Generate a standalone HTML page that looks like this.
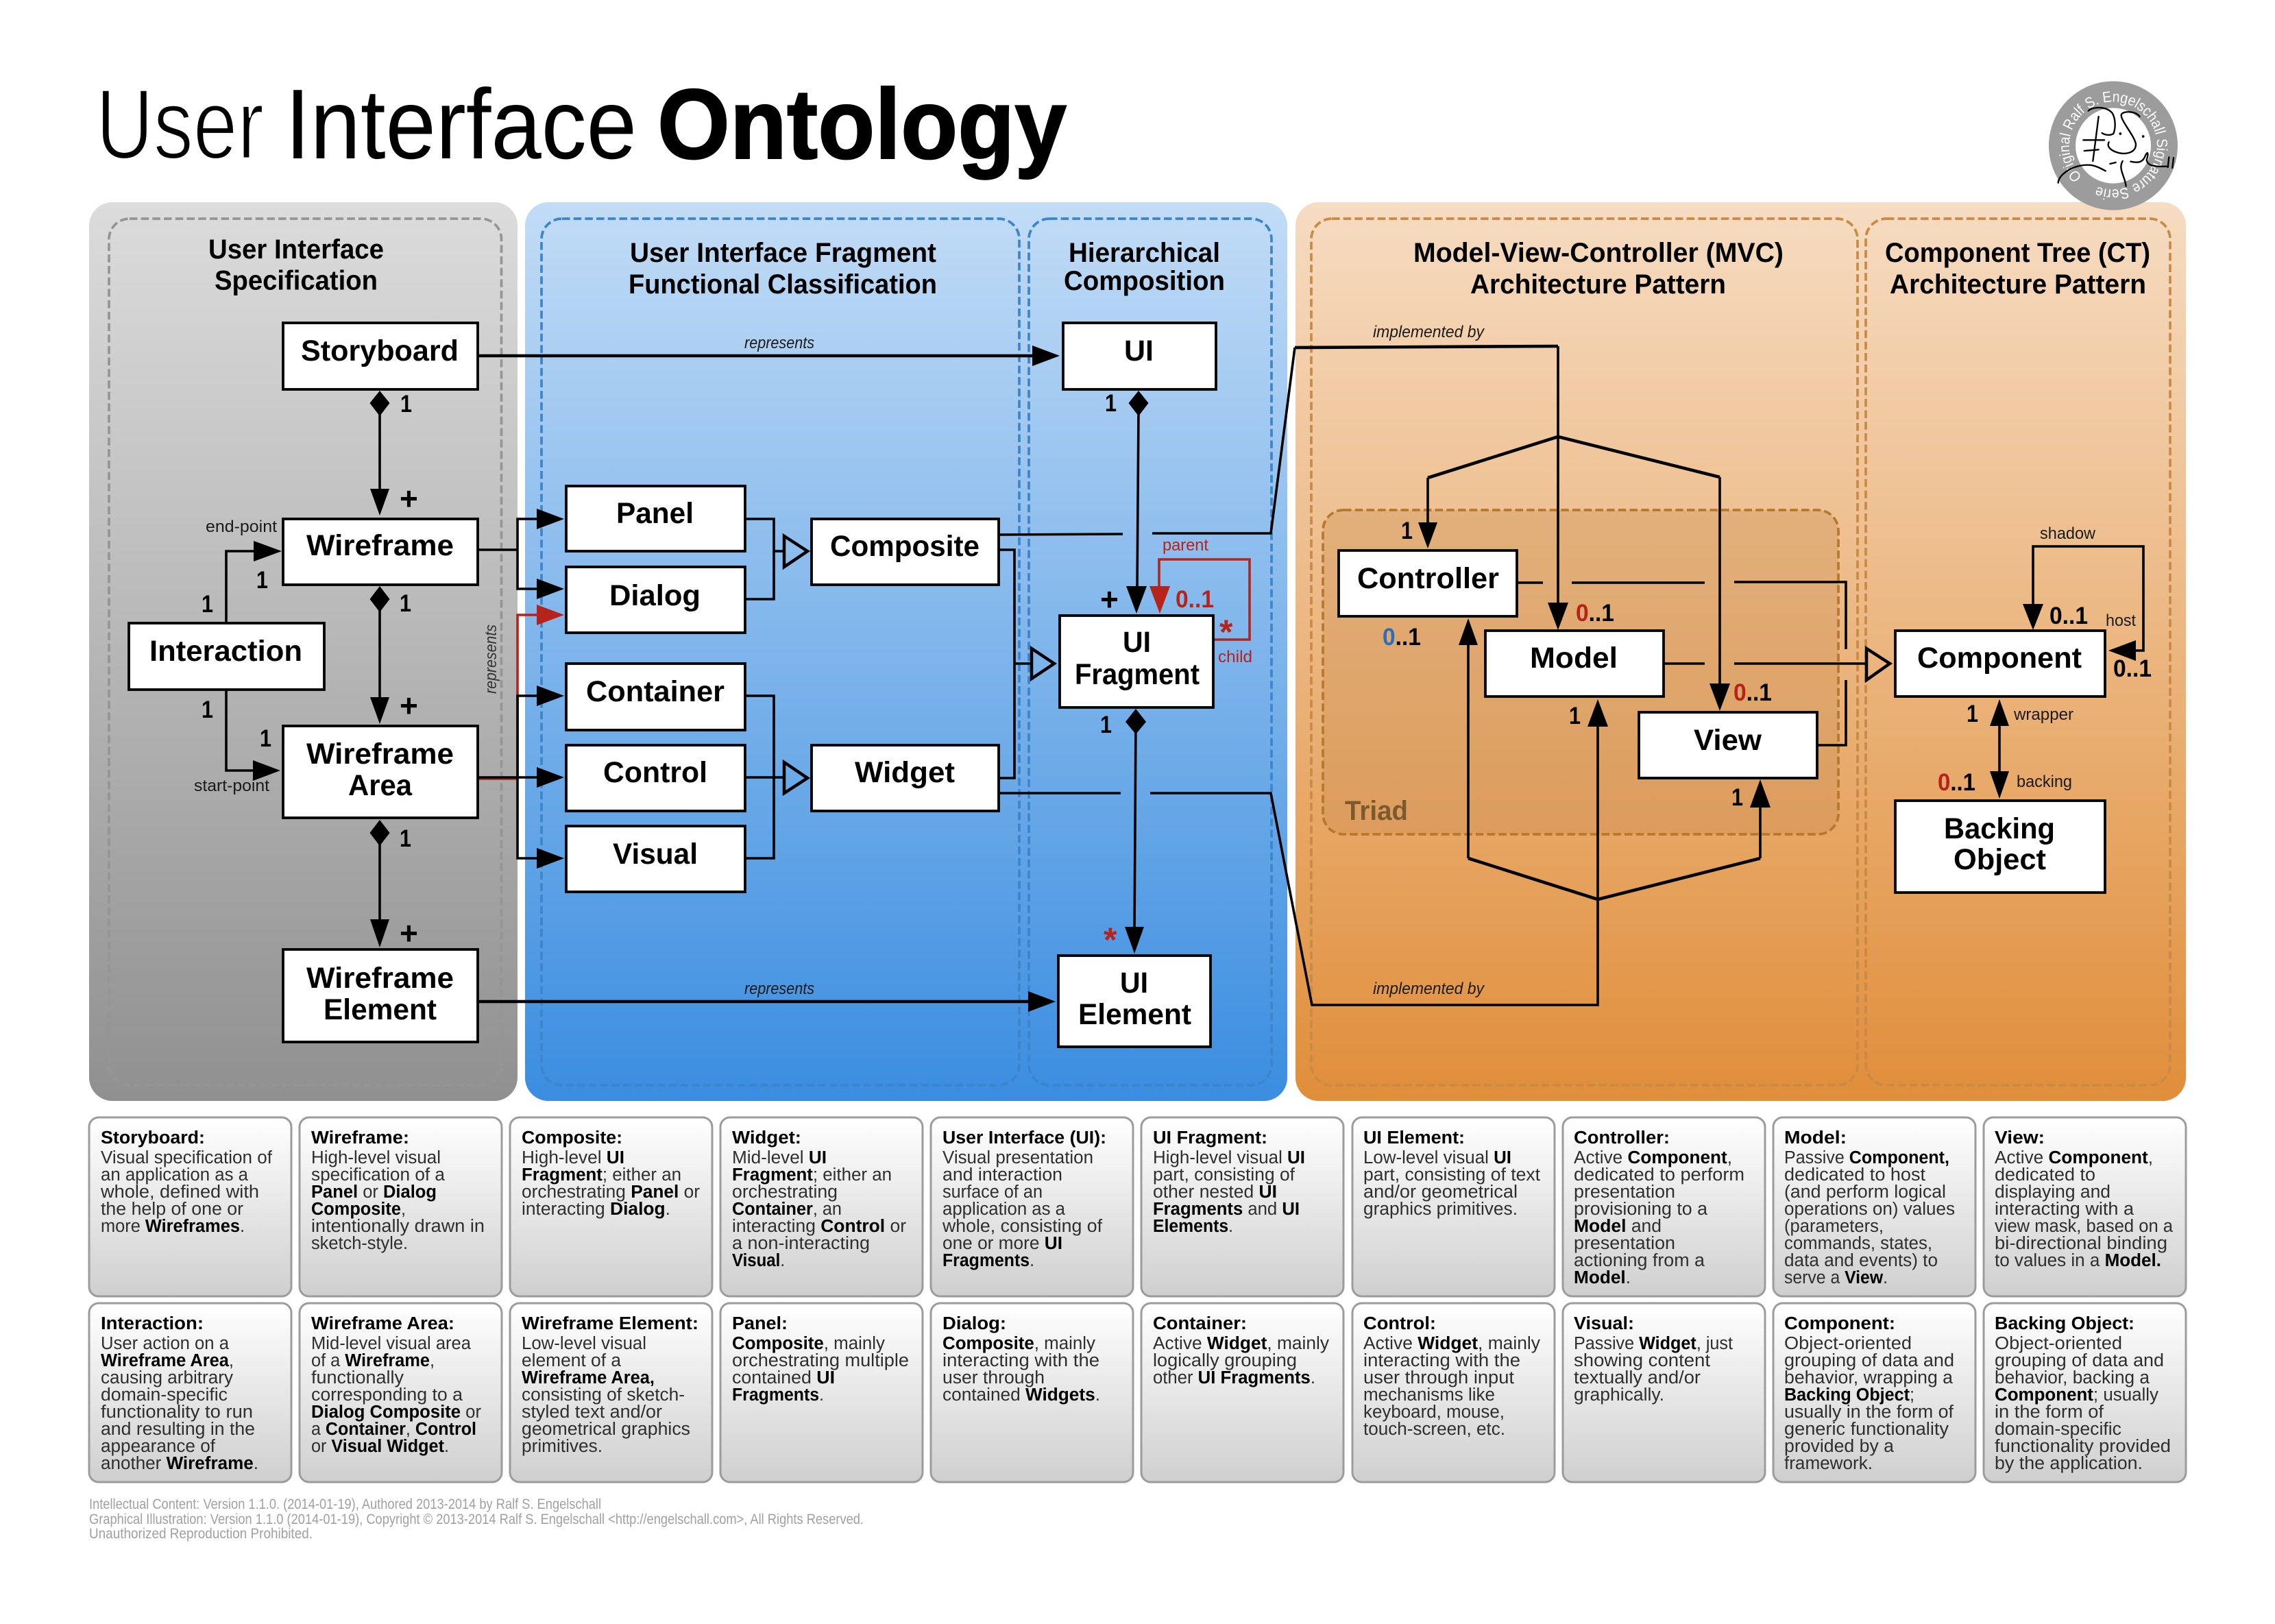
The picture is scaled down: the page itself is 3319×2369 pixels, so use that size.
<!DOCTYPE html>
<html lang="en"><head><meta charset="utf-8"><title>User Interface Ontology</title>
<style>
html,body{margin:0;padding:0;background:#fff;width:3319px;height:2369px;overflow:hidden}
svg{display:block}
text{font-family:"Liberation Sans",sans-serif}
.l{font-weight:700;font-size:43px;fill:#000;text-anchor:start}
.h{font-weight:700;font-size:39.5px;fill:#000}
.n{font-weight:700;font-size:35px;fill:#000}
.p{font-weight:700;font-size:46px;fill:#000}
.a{font-weight:700;font-size:50px;fill:#b5231a}
.s{font-size:24px;fill:#1a1a1a}
.i{font-size:24px;font-style:italic;fill:#1a1a1a}
.t{font-size:25.5px;font-weight:700;fill:#000}
.d{font-size:25.5px;fill:#2e2e2e}
.d tspan{font-weight:700;fill:#000}
.f{font-size:21px;fill:#a0a0a0}
.w{fill:#fff;stroke:#000;stroke-width:3.8}
.c{fill:none;stroke:#000;stroke-width:3.6;stroke-linejoin:miter}
.x{fill:none;stroke:#000;stroke-width:4.6}
.da{fill:none;stroke-width:3.7;stroke-dasharray:11.5 5.2}
.db{fill:url(#gd);stroke:#9c9c9c;stroke-width:3}
</style></head><body>
<svg xmlns="http://www.w3.org/2000/svg" width="3319" height="2369" viewBox="0 0 3319 2369">
<defs>
<linearGradient id="gg" x1="0" y1="0" x2="0" y2="1"><stop offset="0" stop-color="#dcdcdc"/><stop offset="1" stop-color="#909090"/></linearGradient>
<linearGradient id="gb" x1="0" y1="0" x2="0" y2="1"><stop offset="0" stop-color="#c2dcf6"/><stop offset="1" stop-color="#3a8de0"/></linearGradient>
<linearGradient id="go" x1="0" y1="0" x2="0" y2="1"><stop offset="0" stop-color="#f6dcc2"/><stop offset="1" stop-color="#e08e3a"/></linearGradient>
<linearGradient id="gt" x1="0" y1="0" x2="0" y2="1"><stop offset="0" stop-color="#e2b07c"/><stop offset="1" stop-color="#dc9c5c"/></linearGradient>
<linearGradient id="gd" x1="0" y1="0" x2="0" y2="1"><stop offset="0" stop-color="#ffffff"/><stop offset="1" stop-color="#cfcfcf"/></linearGradient>
</defs>

<!-- Title -->
<text x="140" y="231" font-size="145" textLength="245" lengthAdjust="spacingAndGlyphs" fill="#000" stroke="#fff" stroke-width="3">User</text>
<text x="416" y="231" font-size="145" textLength="513" lengthAdjust="spacingAndGlyphs" fill="#000">Interface</text>
<text x="959" y="231" font-size="145" font-weight="700" textLength="597" lengthAdjust="spacingAndGlyphs" fill="#000" stroke="#000" stroke-width="2">Ontology</text>

<!-- Panels -->
<rect x="130" y="295" width="625" height="1311" rx="34" fill="url(#gg)"/>
<rect x="766" y="295" width="1112" height="1311" rx="34" fill="url(#gb)"/>
<rect x="1890" y="295" width="1299" height="1311" rx="34" fill="url(#go)"/>
<rect x="159" y="319" width="572.500" height="1264" rx="30" class="da" stroke="#959595"/>
<rect x="790" y="319" width="697" height="1264" rx="30" class="da" stroke="#3d85cb"/>
<rect x="1501" y="319" width="354" height="1264" rx="30" class="da" stroke="#3d85cb"/>
<rect x="1913" y="319" width="797" height="1264" rx="30" class="da" stroke="#c98a45"/>
<rect x="2722" y="319" width="444" height="1264" rx="30" class="da" stroke="#c98a45"/>
<rect x="1930" y="744" width="752" height="473" rx="30" fill="url(#gt)" stroke="#b5782f" stroke-width="3.7" stroke-dasharray="11.5 5.2"/>

<!-- Seal -->
<circle cx="3083" cy="212.500" r="94" fill="#9c9c9c"/>
<circle cx="3083" cy="212.500" r="55" fill="#fff"/>
<path id="sealp" d="M3037.700 257.800 A64 64 0 1 1 3059 271.800" fill="none"/>
<text font-size="22" fill="#fff"><textPath href="#sealp" textLength="385" lengthAdjust="spacingAndGlyphs">Original Ralf S. Engelschall Signature Series</textPath></text>
<g transform="translate(2950,90) scale(0.3333)" fill="none" stroke="#000" stroke-width="7" stroke-linecap="round" stroke-linejoin="round">
<path d="M290 215C310 195 370 195 395 225C410 250 410 290 400 315C385 325 360 320 350 312"/>
<path d="M335 240L310 435"/><path d="M268 343L360 343"/><path d="M272 390L335 385"/>
<path d="M515 240C495 215 445 215 435 230C425 250 490 320 498 360C500 400 450 410 410 395C385 385 370 370 380 352"/>
<path d="M158 530C160 490 230 450 290 452C320 452 350 470 365 478"/>
<path d="M385 447L410 441"/><path d="M455 545C450 500 420 470 440 435"/>
<path d="M475 437C510 445 530 440 540 410C550 390 555 400 545 430C550 460 590 460 640 458"/>
<path d="M643 418L638 462"/><path d="M663 420L658 465"/>
<circle cx="430" cy="315" r="2" fill="#000"/><circle cx="530" cy="327" r="2" fill="#000"/>
</g>

<!-- Red connectors -->
<path d="M697 1136H755V897H790" fill="none" stroke="#b5231a" stroke-width="3.6"/>
<polygon points="783,882 823,897 783,912" fill="#b5231a"/>
<path d="M1771 933H1823V816H1691V860" fill="none" stroke="#b5231a" stroke-width="3.6"/>
<polygon points="1677,855 1707,855 1692,895" fill="#b5231a"/>

<!-- Black connectors -->
<g>
<path class="x" d="M697 519H1510"/><polygon points="1506,504 1546,519 1506,534"/>
<path class="c" d="M554 600V720"/><polygon points="554,570 568.500,588 554,607 539.500,588"/><polygon points="540,713 568,713 554,752"/>
<path class="c" d="M554 880V1020"/><polygon points="554,855 568.500,874 554,893 539.500,874"/><polygon points="540,1017 568,1017 554,1056"/>
<path class="c" d="M554 1220V1345"/><polygon points="554,1196 568.500,1215 554,1234 539.500,1215"/><polygon points="540,1341 568,1341 554,1382"/>
<path class="c" d="M330 909V804H375"/><polygon points="370,789 411,804 370,819"/>
<path class="c" d="M330 1006V1124H372"/><polygon points="369,1109 409,1124 369,1139"/>
<path class="c" d="M697 802H755"/>
<path class="c" d="M790 757H755V859H790"/><polygon points="783,742 823,757 783,772"/><polygon points="783,844 823,859 783,874"/>
<path class="c" d="M697 1134H790"/>
<path class="c" d="M790 1015H755V1252H790"/><polygon points="783,1000 823,1015 783,1030"/><polygon points="783,1119 823,1134 783,1149"/><polygon points="783,1237 823,1252 783,1267"/>
<path class="c" d="M1087 757H1129V874H1087"/><path class="c" d="M1129 804H1144"/>
<polygon points="1144,782 1178,804 1144,827" fill="none" stroke="#000" stroke-width="4.500"/>
<path class="c" d="M1087 1015H1129V1252H1087"/><path class="c" d="M1087 1134H1144"/>
<polygon points="1144,1112 1178,1135 1144,1157" fill="none" stroke="#000" stroke-width="4.500"/>
<path class="c" d="M1457 802H1480V1135H1457"/><path class="c" d="M1480 968H1505"/>
<polygon points="1505,946 1538,968 1505,990" fill="none" stroke="#000" stroke-width="4.500"/>
<path class="c" d="M1661 600L1659 860"/><polygon points="1661,570 1675.500,588 1661,607 1646.500,588"/><polygon points="1643,855 1673,855 1658,895"/>
<path class="c" d="M1657 1050L1655 1360"/><polygon points="1657,1034 1672,1053 1657,1071 1642,1053"/><polygon points="1641,1352 1669,1352 1655,1391"/>
<path class="x" d="M697 1461H1505"/><polygon points="1500,1446 1540,1461 1500,1476"/>
<!-- implemented by -->
<path class="c" d="M1457 780L1638 779"/>
<path class="c" d="M1681 778H1854L1889 507"/><path class="x" d="M1889 507L2273 505"/>
<path class="c" d="M2273 505V885"/><polygon points="2258,879 2288,879 2273,919"/>
<path class="c" d="M2083 765V697M2509 696V1000"/><path d="M2083 697L2273 637L2509 696" class="x" fill="none"/>
<polygon points="2069,762 2097,762 2083,800"/><polygon points="2494,997 2524,997 2509,1037"/>
<path class="c" d="M1457 1157H1635"/>
<path class="c" d="M1678 1157H1854L1914 1466H2331V1055"/><polygon points="2316,1060 2346,1060 2331,1020"/>
<path class="c" d="M2142 935V1252M2568 1252V1175"/><path d="M2142 1252L2331 1312L2568 1252" class="x" fill="none"/>
<polygon points="2128,941 2156,941 2142,902"/><polygon points="2553,1178 2583,1178 2568,1137"/>
<!-- MVC to Component -->
<path class="c" d="M2213 850H2251"/><path class="c" d="M2293 850H2487"/><path class="c" d="M2530 849H2693V947"/>
<path class="c" d="M2693 992V1087H2651"/>
<path class="c" d="M2427 968H2487"/><path class="c" d="M2530 968H2723"/>
<polygon points="2723,946 2757,968 2723,992" fill="none" stroke="#000" stroke-width="4.500"/>
<!-- Component loops -->
<path class="c" d="M2966 885V797H3127V949H3110"/><polygon points="2951,881 2981,881 2966,919"/><polygon points="3116,934 3116,964 3076,949"/>
<path class="c" d="M2917 1050V1130"/><polygon points="2903,1059 2931,1059 2917,1020"/><polygon points="2903,1125 2931,1125 2917,1165"/>
</g>

<!-- Boxes -->
<rect class="w" x="413" y="471" width="284" height="97"/>
<rect class="w" x="413" y="757" width="284" height="96"/>
<rect class="w" x="188" y="909" width="285" height="97"/>
<rect class="w" x="413" y="1059" width="284" height="134"/>
<rect class="w" x="413" y="1385" width="284" height="135"/>
<rect class="w" x="826" y="709" width="261" height="95"/>
<rect class="w" x="826" y="827" width="261" height="96"/>
<rect class="w" x="826" y="968" width="261" height="97"/>
<rect class="w" x="826" y="1087" width="261" height="96"/>
<rect class="w" x="826" y="1205" width="261" height="96"/>
<rect class="w" x="1184" y="757" width="273" height="96"/>
<rect class="w" x="1184" y="1087" width="273" height="96"/>
<rect class="w" x="1551" y="471" width="223" height="97"/>
<rect class="w" x="1546" y="898" width="224" height="134"/>
<rect class="w" x="1544" y="1394" width="222" height="133"/>
<rect class="w" x="1953" y="803" width="260" height="96"/>
<rect class="w" x="2167" y="920" width="260" height="96"/>
<rect class="w" x="2391" y="1039" width="260" height="96"/>
<rect class="w" x="2765" y="920" width="306" height="96"/>
<rect class="w" x="2765" y="1168" width="306" height="134"/>

<!-- Box labels -->
<text class="l" x="439" y="526" textLength="230" lengthAdjust="spacingAndGlyphs">Storyboard</text>
<text class="l" x="447" y="810" textLength="215" lengthAdjust="spacingAndGlyphs">Wireframe</text>
<text class="l" x="218" y="964" textLength="223" lengthAdjust="spacingAndGlyphs">Interaction</text>
<text class="l" x="447" y="1114" textLength="215" lengthAdjust="spacingAndGlyphs">Wireframe</text>
<text class="l" x="508" y="1160" textLength="93" lengthAdjust="spacingAndGlyphs">Area</text>
<text class="l" x="447" y="1441" textLength="215" lengthAdjust="spacingAndGlyphs">Wireframe</text>
<text class="l" x="472" y="1487" textLength="165" lengthAdjust="spacingAndGlyphs">Element</text>
<text class="l" x="899" y="763" textLength="113" lengthAdjust="spacingAndGlyphs">Panel</text>
<text class="l" x="889" y="883" textLength="133" lengthAdjust="spacingAndGlyphs">Dialog</text>
<text class="l" x="855" y="1023" textLength="202" lengthAdjust="spacingAndGlyphs">Container</text>
<text class="l" x="880" y="1141" textLength="152" lengthAdjust="spacingAndGlyphs">Control</text>
<text class="l" x="894" y="1260" textLength="124" lengthAdjust="spacingAndGlyphs">Visual</text>
<text class="l" x="1211" y="811" textLength="218" lengthAdjust="spacingAndGlyphs">Composite</text>
<text class="l" x="1247" y="1141" textLength="146" lengthAdjust="spacingAndGlyphs">Widget</text>
<text class="l" x="1640" y="526" textLength="43" lengthAdjust="spacingAndGlyphs">UI</text>
<text class="l" x="1638" y="951" textLength="41" lengthAdjust="spacingAndGlyphs">UI</text>
<text class="l" x="1568" y="998" textLength="182" lengthAdjust="spacingAndGlyphs">Fragment</text>
<text class="l" x="1634" y="1448" textLength="41" lengthAdjust="spacingAndGlyphs">UI</text>
<text class="l" x="1573" y="1494" textLength="165" lengthAdjust="spacingAndGlyphs">Element</text>
<text class="l" x="1980" y="858" textLength="207" lengthAdjust="spacingAndGlyphs">Controller</text>
<text class="l" x="2232" y="974" textLength="128" lengthAdjust="spacingAndGlyphs">Model</text>
<text class="l" x="2471" y="1094" textLength="99" lengthAdjust="spacingAndGlyphs">View</text>
<text class="l" x="2797" y="974" textLength="240" lengthAdjust="spacingAndGlyphs">Component</text>
<text class="l" x="2836" y="1223" textLength="162" lengthAdjust="spacingAndGlyphs">Backing</text>
<text class="l" x="2850" y="1268" textLength="135" lengthAdjust="spacingAndGlyphs">Object</text>

<!-- Headers -->
<text class="h" x="304" y="377" textLength="256" lengthAdjust="spacingAndGlyphs">User Interface</text>
<text class="h" x="313" y="422.500" textLength="238" lengthAdjust="spacingAndGlyphs">Specification</text>
<text class="h" x="919" y="382" textLength="447" lengthAdjust="spacingAndGlyphs">User Interface Fragment</text>
<text class="h" x="917" y="428" textLength="450" lengthAdjust="spacingAndGlyphs">Functional Classification</text>
<text class="h" x="1559" y="382" textLength="221" lengthAdjust="spacingAndGlyphs">Hierarchical</text>
<text class="h" x="1552" y="423" textLength="235" lengthAdjust="spacingAndGlyphs">Composition</text>
<text class="h" x="2062" y="382" textLength="540" lengthAdjust="spacingAndGlyphs">Model-View-Controller (MVC)</text>
<text class="h" x="2145" y="428" textLength="373" lengthAdjust="spacingAndGlyphs">Architecture Pattern</text>
<text class="h" x="2750" y="382" textLength="387" lengthAdjust="spacingAndGlyphs">Component Tree (CT)</text>
<text class="h" x="2757" y="428" textLength="374" lengthAdjust="spacingAndGlyphs">Architecture Pattern</text>

<!-- Multiplicities -->
<g>
<text class="n" x="584" y="601" textLength="17" lengthAdjust="spacingAndGlyphs">1</text>
<text class="n" x="583" y="892" textLength="17" lengthAdjust="spacingAndGlyphs">1</text>
<text class="n" x="583" y="1235" textLength="17" lengthAdjust="spacingAndGlyphs">1</text>
<text class="n" x="294" y="893" textLength="17" lengthAdjust="spacingAndGlyphs">1</text>
<text class="n" x="374" y="858" textLength="17" lengthAdjust="spacingAndGlyphs">1</text>
<text class="n" x="294" y="1047" textLength="17" lengthAdjust="spacingAndGlyphs">1</text>
<text class="n" x="379" y="1089" textLength="17" lengthAdjust="spacingAndGlyphs">1</text>
<text class="n" x="1612" y="600" textLength="17" lengthAdjust="spacingAndGlyphs">1</text>
<text class="n" x="1605" y="1069" textLength="17" lengthAdjust="spacingAndGlyphs">1</text>
<text class="n" x="2044" y="786" textLength="17" lengthAdjust="spacingAndGlyphs">1</text>
<text class="n" x="2289" y="1056" textLength="17" lengthAdjust="spacingAndGlyphs">1</text>
<text class="n" x="2526" y="1175" textLength="17" lengthAdjust="spacingAndGlyphs">1</text>
<text class="n" x="2869" y="1053" textLength="17" lengthAdjust="spacingAndGlyphs">1</text>
<text class="p" x="583" y="743">+</text>
<text class="p" x="583" y="1045">+</text>
<text class="p" x="583" y="1377">+</text>
<text class="p" x="1605" y="890">+</text>
<text class="n" x="1715" y="886" textLength="56" lengthAdjust="spacingAndGlyphs" style="fill:#b5231a">0..1</text>
<text class="a" x="1779" y="939">*</text>
<text class="a" x="1610" y="1388">*</text>
<text class="n" x="2017" y="941" textLength="56" lengthAdjust="spacingAndGlyphs"><tspan fill="#2a6ebb">0</tspan>..1</text>
<text class="n" x="2299" y="906" textLength="56" lengthAdjust="spacingAndGlyphs"><tspan fill="#b5231a">0</tspan>..1</text>
<text class="n" x="2529" y="1022" textLength="56" lengthAdjust="spacingAndGlyphs"><tspan fill="#b5231a">0</tspan>..1</text>
<text class="n" x="2990" y="910" textLength="56" lengthAdjust="spacingAndGlyphs">0..1</text>
<text class="n" x="3083" y="987" textLength="56" lengthAdjust="spacingAndGlyphs">0..1</text>
<text class="n" x="2827" y="1153" textLength="55" lengthAdjust="spacingAndGlyphs"><tspan fill="#b5231a">0</tspan>..1</text>
<text x="1962" y="1196" font-size="40" font-weight="700" fill="#7d5a2e" textLength="92" lengthAdjust="spacingAndGlyphs">Triad</text>
</g>

<!-- Small labels -->
<text class="s" x="300" y="776" textLength="104" lengthAdjust="spacingAndGlyphs">end-point</text>
<text class="s" x="283" y="1154" textLength="110" lengthAdjust="spacingAndGlyphs">start-point</text>
<text class="i" transform="translate(724,1012) rotate(-90)" textLength="101" lengthAdjust="spacingAndGlyphs" style="fill:#333">represents</text>
<text class="i" x="1086" y="508" textLength="102" lengthAdjust="spacingAndGlyphs">represents</text>
<text class="i" x="1086" y="1450" textLength="102" lengthAdjust="spacingAndGlyphs">represents</text>
<text class="i" x="2003" y="492" textLength="162" lengthAdjust="spacingAndGlyphs">implemented by</text>
<text class="i" x="2003" y="1450" textLength="162" lengthAdjust="spacingAndGlyphs">implemented by</text>
<text class="s" x="1696" y="803" textLength="67" lengthAdjust="spacingAndGlyphs" style="fill:#b5231a">parent</text>
<text class="s" x="1777" y="966" textLength="50" lengthAdjust="spacingAndGlyphs" style="fill:#b5231a">child</text>
<text class="s" x="2976" y="786" textLength="81" lengthAdjust="spacingAndGlyphs">shadow</text>
<text class="s" x="3072" y="913" textLength="44" lengthAdjust="spacingAndGlyphs">host</text>
<text class="s" x="2938" y="1050" textLength="87" lengthAdjust="spacingAndGlyphs">wrapper</text>
<text class="s" x="2942" y="1148" textLength="81" lengthAdjust="spacingAndGlyphs">backing</text>

<!-- Description boxes -->
<rect class="db" x="130" y="1630" width="295" height="261" rx="14"/>
<rect class="db" x="437" y="1630" width="295" height="261" rx="14"/>
<rect class="db" x="744" y="1630" width="295" height="261" rx="14"/>
<rect class="db" x="1051" y="1630" width="295" height="261" rx="14"/>
<rect class="db" x="1358" y="1630" width="295" height="261" rx="14"/>
<rect class="db" x="1665" y="1630" width="295" height="261" rx="14"/>
<rect class="db" x="1973" y="1630" width="295" height="261" rx="14"/>
<rect class="db" x="2280" y="1630" width="295" height="261" rx="14"/>
<rect class="db" x="2587" y="1630" width="295" height="261" rx="14"/>
<rect class="db" x="2894" y="1630" width="295" height="261" rx="14"/>
<rect class="db" x="130" y="1901" width="295" height="261" rx="14"/>
<rect class="db" x="437" y="1901" width="295" height="261" rx="14"/>
<rect class="db" x="744" y="1901" width="295" height="261" rx="14"/>
<rect class="db" x="1051" y="1901" width="295" height="261" rx="14"/>
<rect class="db" x="1358" y="1901" width="295" height="261" rx="14"/>
<rect class="db" x="1665" y="1901" width="295" height="261" rx="14"/>
<rect class="db" x="1973" y="1901" width="295" height="261" rx="14"/>
<rect class="db" x="2280" y="1901" width="295" height="261" rx="14"/>
<rect class="db" x="2587" y="1901" width="295" height="261" rx="14"/>
<rect class="db" x="2894" y="1901" width="295" height="261" rx="14"/>

<g transform="translate(147,0)">
<text class="t" y="1668" textLength="152" lengthAdjust="spacingAndGlyphs">Storyboard:</text>
<text class="d" y="1697" textLength="250" lengthAdjust="spacingAndGlyphs">Visual specification of</text>
<text class="d" y="1722" textLength="215" lengthAdjust="spacingAndGlyphs">an application as a</text>
<text class="d" y="1747" textLength="231" lengthAdjust="spacingAndGlyphs">whole, defined with</text>
<text class="d" y="1772" textLength="208" lengthAdjust="spacingAndGlyphs">the help of one or</text>
<text class="d" y="1797" textLength="210" lengthAdjust="spacingAndGlyphs">more <tspan>Wireframes</tspan>.</text>
<text class="t" y="1939" textLength="150" lengthAdjust="spacingAndGlyphs">Interaction:</text>
<text class="d" y="1968" textLength="187" lengthAdjust="spacingAndGlyphs">User action on a</text>
<text class="d" y="1993" textLength="194" lengthAdjust="spacingAndGlyphs"><tspan>Wireframe Area</tspan>,</text>
<text class="d" y="2018" textLength="193" lengthAdjust="spacingAndGlyphs">causing arbitrary</text>
<text class="d" y="2043" textLength="185" lengthAdjust="spacingAndGlyphs">domain-specific</text>
<text class="d" y="2068" textLength="222" lengthAdjust="spacingAndGlyphs">functionality to run</text>
<text class="d" y="2093" textLength="225" lengthAdjust="spacingAndGlyphs">and resulting in the</text>
<text class="d" y="2118" textLength="167" lengthAdjust="spacingAndGlyphs">appearance of</text>
<text class="d" y="2143" textLength="230" lengthAdjust="spacingAndGlyphs">another <tspan>Wireframe</tspan>.</text>
</g>
<g transform="translate(454,0)">
<text class="t" y="1668" textLength="143" lengthAdjust="spacingAndGlyphs">Wireframe:</text>
<text class="d" y="1697" textLength="189" lengthAdjust="spacingAndGlyphs">High-level visual</text>
<text class="d" y="1722" textLength="195" lengthAdjust="spacingAndGlyphs">specification of a</text>
<text class="d" y="1747" textLength="183" lengthAdjust="spacingAndGlyphs"><tspan>Panel</tspan> or <tspan>Dialog</tspan></text>
<text class="d" y="1772" textLength="138" lengthAdjust="spacingAndGlyphs"><tspan>Composite</tspan>,</text>
<text class="d" y="1797" textLength="253" lengthAdjust="spacingAndGlyphs">intentionally drawn in</text>
<text class="d" y="1822" textLength="141" lengthAdjust="spacingAndGlyphs">sketch-style.</text>
<text class="t" y="1939" textLength="209" lengthAdjust="spacingAndGlyphs">Wireframe Area:</text>
<text class="d" y="1968" textLength="233" lengthAdjust="spacingAndGlyphs">Mid-level visual area</text>
<text class="d" y="1993" textLength="180" lengthAdjust="spacingAndGlyphs">of a <tspan>Wireframe</tspan>,</text>
<text class="d" y="2018" textLength="135" lengthAdjust="spacingAndGlyphs">functionally</text>
<text class="d" y="2043" textLength="221" lengthAdjust="spacingAndGlyphs">corresponding to a</text>
<text class="d" y="2068" textLength="248" lengthAdjust="spacingAndGlyphs"><tspan>Dialog Composite</tspan> or</text>
<text class="d" y="2093" textLength="241" lengthAdjust="spacingAndGlyphs">a <tspan>Container</tspan>, <tspan>Control</tspan></text>
<text class="d" y="2118" textLength="201" lengthAdjust="spacingAndGlyphs">or <tspan>Visual Widget</tspan>.</text>
</g>
<g transform="translate(761,0)">
<text class="t" y="1668" textLength="147" lengthAdjust="spacingAndGlyphs">Composite:</text>
<text class="d" y="1697" textLength="150" lengthAdjust="spacingAndGlyphs">High-level <tspan>UI</tspan></text>
<text class="d" y="1722" textLength="233" lengthAdjust="spacingAndGlyphs"><tspan>Fragment</tspan>; either an</text>
<text class="d" y="1747" textLength="260" lengthAdjust="spacingAndGlyphs">orchestrating <tspan>Panel</tspan> or</text>
<text class="d" y="1772" textLength="217" lengthAdjust="spacingAndGlyphs">interacting <tspan>Dialog</tspan>.</text>
<text class="t" y="1939" textLength="258" lengthAdjust="spacingAndGlyphs">Wireframe Element:</text>
<text class="d" y="1968" textLength="182" lengthAdjust="spacingAndGlyphs">Low-level visual</text>
<text class="d" y="1993" textLength="145" lengthAdjust="spacingAndGlyphs">element of a</text>
<text class="d" y="2018" textLength="194" lengthAdjust="spacingAndGlyphs"><tspan>Wireframe Area,</tspan></text>
<text class="d" y="2043" textLength="238" lengthAdjust="spacingAndGlyphs">consisting of sketch-</text>
<text class="d" y="2068" textLength="205" lengthAdjust="spacingAndGlyphs">styled text and/or</text>
<text class="d" y="2093" textLength="246" lengthAdjust="spacingAndGlyphs">geometrical graphics</text>
<text class="d" y="2118" textLength="118" lengthAdjust="spacingAndGlyphs">primitives.</text>
</g>
<g transform="translate(1068,0)">
<text class="t" y="1668" textLength="101" lengthAdjust="spacingAndGlyphs">Widget:</text>
<text class="d" y="1697" textLength="138" lengthAdjust="spacingAndGlyphs">Mid-level <tspan>UI</tspan></text>
<text class="d" y="1722" textLength="233" lengthAdjust="spacingAndGlyphs"><tspan>Fragment</tspan>; either an</text>
<text class="d" y="1747" textLength="154" lengthAdjust="spacingAndGlyphs">orchestrating</text>
<text class="d" y="1772" textLength="160" lengthAdjust="spacingAndGlyphs"><tspan>Container</tspan>, an</text>
<text class="d" y="1797" textLength="254" lengthAdjust="spacingAndGlyphs">interacting <tspan>Control</tspan> or</text>
<text class="d" y="1822" textLength="201" lengthAdjust="spacingAndGlyphs">a non-interacting</text>
<text class="d" y="1847" textLength="77" lengthAdjust="spacingAndGlyphs"><tspan>Visual</tspan>.</text>
<text class="t" y="1939" textLength="81" lengthAdjust="spacingAndGlyphs">Panel:</text>
<text class="d" y="1968" textLength="223" lengthAdjust="spacingAndGlyphs"><tspan>Composite</tspan>, mainly</text>
<text class="d" y="1993" textLength="258" lengthAdjust="spacingAndGlyphs">orchestrating multiple</text>
<text class="d" y="2018" textLength="150" lengthAdjust="spacingAndGlyphs">contained <tspan>UI</tspan></text>
<text class="d" y="2043" textLength="134" lengthAdjust="spacingAndGlyphs"><tspan>Fragments</tspan>.</text>
</g>
<g transform="translate(1375,0)">
<text class="t" y="1668" textLength="239" lengthAdjust="spacingAndGlyphs">User Interface (UI):</text>
<text class="d" y="1697" textLength="220" lengthAdjust="spacingAndGlyphs">Visual presentation</text>
<text class="d" y="1722" textLength="175" lengthAdjust="spacingAndGlyphs">and interaction</text>
<text class="d" y="1747" textLength="146" lengthAdjust="spacingAndGlyphs">surface of an</text>
<text class="d" y="1772" textLength="179" lengthAdjust="spacingAndGlyphs">application as a</text>
<text class="d" y="1797" textLength="233" lengthAdjust="spacingAndGlyphs">whole, consisting of</text>
<text class="d" y="1822" textLength="175" lengthAdjust="spacingAndGlyphs">one or more <tspan>UI</tspan></text>
<text class="d" y="1847" textLength="134" lengthAdjust="spacingAndGlyphs"><tspan>Fragments</tspan>.</text>
<text class="t" y="1939" textLength="93" lengthAdjust="spacingAndGlyphs">Dialog:</text>
<text class="d" y="1968" textLength="223" lengthAdjust="spacingAndGlyphs"><tspan>Composite</tspan>, mainly</text>
<text class="d" y="1993" textLength="229" lengthAdjust="spacingAndGlyphs">interacting with the</text>
<text class="d" y="2018" textLength="149" lengthAdjust="spacingAndGlyphs">user through</text>
<text class="d" y="2043" textLength="230" lengthAdjust="spacingAndGlyphs">contained <tspan>Widgets</tspan>.</text>
</g>
<g transform="translate(1682,0)">
<text class="t" y="1668" textLength="167" lengthAdjust="spacingAndGlyphs">UI Fragment:</text>
<text class="d" y="1697" textLength="222" lengthAdjust="spacingAndGlyphs">High-level visual <tspan>UI</tspan></text>
<text class="d" y="1722" textLength="207" lengthAdjust="spacingAndGlyphs">part, consisting of</text>
<text class="d" y="1747" textLength="181" lengthAdjust="spacingAndGlyphs">other nested <tspan>UI</tspan></text>
<text class="d" y="1772" textLength="214" lengthAdjust="spacingAndGlyphs"><tspan>Fragments</tspan> and <tspan>UI</tspan></text>
<text class="d" y="1797" textLength="117" lengthAdjust="spacingAndGlyphs"><tspan>Elements</tspan>.</text>
<text class="t" y="1939" textLength="137" lengthAdjust="spacingAndGlyphs">Container:</text>
<text class="d" y="1968" textLength="257" lengthAdjust="spacingAndGlyphs">Active <tspan>Widget</tspan>, mainly</text>
<text class="d" y="1993" textLength="210" lengthAdjust="spacingAndGlyphs">logically grouping</text>
<text class="d" y="2018" textLength="237" lengthAdjust="spacingAndGlyphs">other <tspan>UI Fragments</tspan>.</text>
</g>
<g transform="translate(1989,0)">
<text class="t" y="1668" textLength="148" lengthAdjust="spacingAndGlyphs">UI Element:</text>
<text class="d" y="1697" textLength="216" lengthAdjust="spacingAndGlyphs">Low-level visual <tspan>UI</tspan></text>
<text class="d" y="1722" textLength="258" lengthAdjust="spacingAndGlyphs">part, consisting of text</text>
<text class="d" y="1747" textLength="225" lengthAdjust="spacingAndGlyphs">and/or geometrical</text>
<text class="d" y="1772" textLength="225" lengthAdjust="spacingAndGlyphs">graphics primitives.</text>
<text class="t" y="1939" textLength="106" lengthAdjust="spacingAndGlyphs">Control:</text>
<text class="d" y="1968" textLength="258" lengthAdjust="spacingAndGlyphs">Active <tspan>Widget</tspan>, mainly</text>
<text class="d" y="1993" textLength="229" lengthAdjust="spacingAndGlyphs">interacting with the</text>
<text class="d" y="2018" textLength="220" lengthAdjust="spacingAndGlyphs">user through input</text>
<text class="d" y="2043" textLength="192" lengthAdjust="spacingAndGlyphs">mechanisms like</text>
<text class="d" y="2068" textLength="206" lengthAdjust="spacingAndGlyphs">keyboard, mouse,</text>
<text class="d" y="2093" textLength="207" lengthAdjust="spacingAndGlyphs">touch-screen, etc.</text>
</g>
<g transform="translate(2296,0)">
<text class="t" y="1668" textLength="140" lengthAdjust="spacingAndGlyphs">Controller:</text>
<text class="d" y="1697" textLength="231" lengthAdjust="spacingAndGlyphs">Active <tspan>Component</tspan>,</text>
<text class="d" y="1722" textLength="249" lengthAdjust="spacingAndGlyphs">dedicated to perform</text>
<text class="d" y="1747" textLength="148" lengthAdjust="spacingAndGlyphs">presentation</text>
<text class="d" y="1772" textLength="195" lengthAdjust="spacingAndGlyphs">provisioning to a</text>
<text class="d" y="1797" textLength="128" lengthAdjust="spacingAndGlyphs"><tspan>Model</tspan> and</text>
<text class="d" y="1822" textLength="148" lengthAdjust="spacingAndGlyphs">presentation</text>
<text class="d" y="1847" textLength="191" lengthAdjust="spacingAndGlyphs">actioning from a</text>
<text class="d" y="1872" textLength="83" lengthAdjust="spacingAndGlyphs"><tspan>Model</tspan>.</text>
<text class="t" y="1939" textLength="88" lengthAdjust="spacingAndGlyphs">Visual:</text>
<text class="d" y="1968" textLength="232" lengthAdjust="spacingAndGlyphs">Passive <tspan>Widget</tspan>, just</text>
<text class="d" y="1993" textLength="199" lengthAdjust="spacingAndGlyphs">showing content</text>
<text class="d" y="2018" textLength="185" lengthAdjust="spacingAndGlyphs">textually and/or</text>
<text class="d" y="2043" textLength="132" lengthAdjust="spacingAndGlyphs">graphically.</text>
</g>
<g transform="translate(2603,0)">
<text class="t" y="1668" textLength="91" lengthAdjust="spacingAndGlyphs">Model:</text>
<text class="d" y="1697" textLength="241" lengthAdjust="spacingAndGlyphs">Passive <tspan>Component,</tspan></text>
<text class="d" y="1722" textLength="206" lengthAdjust="spacingAndGlyphs">dedicated to host</text>
<text class="d" y="1747" textLength="236" lengthAdjust="spacingAndGlyphs">(and perform logical</text>
<text class="d" y="1772" textLength="249" lengthAdjust="spacingAndGlyphs">operations on) values</text>
<text class="d" y="1797" textLength="145" lengthAdjust="spacingAndGlyphs">(parameters,</text>
<text class="d" y="1822" textLength="216" lengthAdjust="spacingAndGlyphs">commands, states,</text>
<text class="d" y="1847" textLength="224" lengthAdjust="spacingAndGlyphs">data and events) to</text>
<text class="d" y="1872" textLength="151" lengthAdjust="spacingAndGlyphs">serve a <tspan>View</tspan>.</text>
<text class="t" y="1939" textLength="162" lengthAdjust="spacingAndGlyphs">Component:</text>
<text class="d" y="1968" textLength="186" lengthAdjust="spacingAndGlyphs">Object-oriented</text>
<text class="d" y="1993" textLength="248" lengthAdjust="spacingAndGlyphs">grouping of data and</text>
<text class="d" y="2018" textLength="246" lengthAdjust="spacingAndGlyphs">behavior, wrapping a</text>
<text class="d" y="2043" textLength="190" lengthAdjust="spacingAndGlyphs"><tspan>Backing Object</tspan>;</text>
<text class="d" y="2068" textLength="247" lengthAdjust="spacingAndGlyphs">usually in the form of</text>
<text class="d" y="2093" textLength="240" lengthAdjust="spacingAndGlyphs">generic functionality</text>
<text class="d" y="2118" textLength="160" lengthAdjust="spacingAndGlyphs">provided by a</text>
<text class="d" y="2143" textLength="129" lengthAdjust="spacingAndGlyphs">framework.</text>
</g>
<g transform="translate(2910,0)">
<text class="t" y="1668" textLength="73" lengthAdjust="spacingAndGlyphs">View:</text>
<text class="d" y="1697" textLength="231" lengthAdjust="spacingAndGlyphs">Active <tspan>Component</tspan>,</text>
<text class="d" y="1722" textLength="147" lengthAdjust="spacingAndGlyphs">dedicated to</text>
<text class="d" y="1747" textLength="169" lengthAdjust="spacingAndGlyphs">displaying and</text>
<text class="d" y="1772" textLength="203" lengthAdjust="spacingAndGlyphs">interacting with a</text>
<text class="d" y="1797" textLength="260" lengthAdjust="spacingAndGlyphs">view mask, based on a</text>
<text class="d" y="1822" textLength="252" lengthAdjust="spacingAndGlyphs">bi-directional binding</text>
<text class="d" y="1847" textLength="243" lengthAdjust="spacingAndGlyphs">to values in a <tspan>Model.</tspan></text>
<text class="t" y="1939" textLength="204" lengthAdjust="spacingAndGlyphs">Backing Object:</text>
<text class="d" y="1968" textLength="186" lengthAdjust="spacingAndGlyphs">Object-oriented</text>
<text class="d" y="1993" textLength="247" lengthAdjust="spacingAndGlyphs">grouping of data and</text>
<text class="d" y="2018" textLength="226" lengthAdjust="spacingAndGlyphs">behavior, backing a</text>
<text class="d" y="2043" textLength="239" lengthAdjust="spacingAndGlyphs"><tspan>Component</tspan>; usually</text>
<text class="d" y="2068" textLength="159" lengthAdjust="spacingAndGlyphs">in the form of</text>
<text class="d" y="2093" textLength="185" lengthAdjust="spacingAndGlyphs">domain-specific</text>
<text class="d" y="2118" textLength="257" lengthAdjust="spacingAndGlyphs">functionality provided</text>
<text class="d" y="2143" textLength="216" lengthAdjust="spacingAndGlyphs">by the application.</text>
</g>

<!-- Footer -->
<text class="f" x="130" y="2201" textLength="747" lengthAdjust="spacingAndGlyphs">Intellectual Content:  Version 1.1.0. (2014-01-19), Authored 2013-2014 by Ralf S. Engelschall</text>
<text class="f" x="130" y="2223" textLength="1130" lengthAdjust="spacingAndGlyphs">Graphical Illustration: Version 1.1.0 (2014-01-19), Copyright © 2013-2014 Ralf S. Engelschall &lt;http://engelschall.com&gt;, All Rights Reserved.</text>
<text class="f" x="130" y="2244" textLength="326" lengthAdjust="spacingAndGlyphs">Unauthorized Reproduction Prohibited.</text>
</svg>
</body></html>
